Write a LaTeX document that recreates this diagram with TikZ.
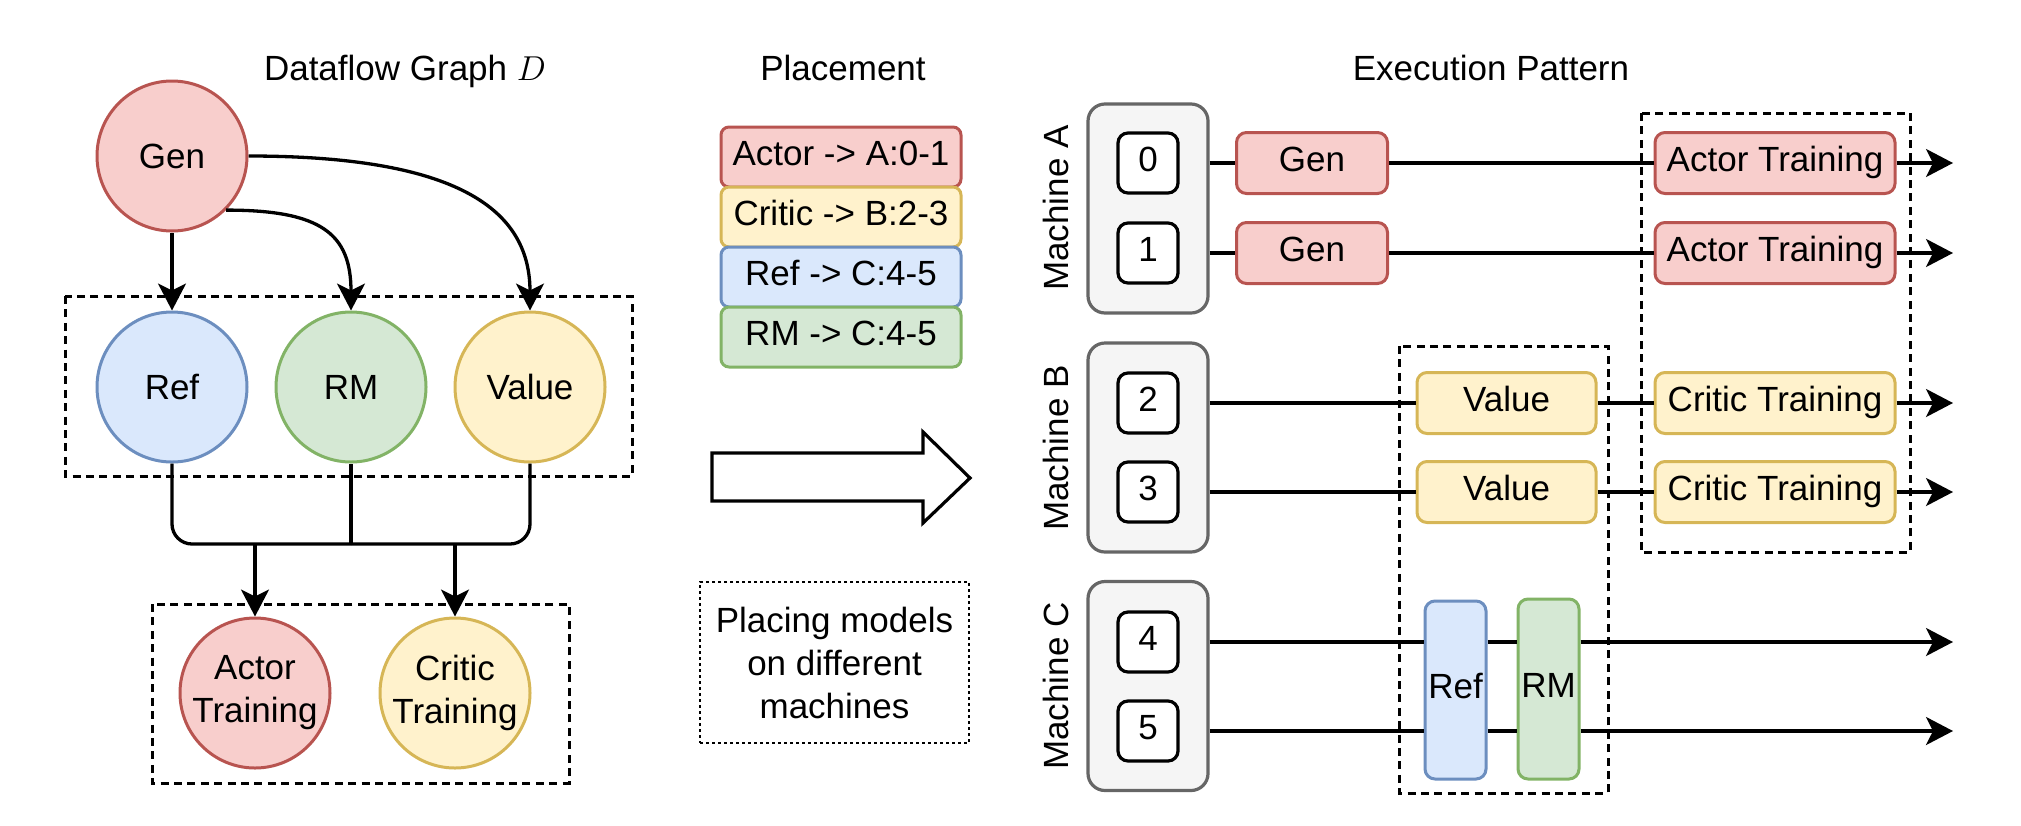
\documentclass[tikz,border=0pt]{standalone}
\usepackage{fontspec}
\setmainfont{Liberation Sans}
\usetikzlibrary{arrows.meta}

\definecolor{redF}{HTML}{F8CECC}\definecolor{redD}{HTML}{B85450}
\definecolor{yelF}{HTML}{FFF2CC}\definecolor{yelD}{HTML}{D6B656}
\definecolor{bluF}{HTML}{DAE8FC}\definecolor{bluD}{HTML}{6C8EBF}
\definecolor{grnF}{HTML}{D5E8D4}\definecolor{grnD}{HTML}{82B366}
\definecolor{gryF}{HTML}{F5F5F5}\definecolor{gryD}{HTML}{666666}

\begin{document}
\begin{tikzpicture}[x=0.5pt,y=-0.5pt,
  every node/.style={font=\fontsize{17.5}{21.5}\selectfont},
  cR/.style={fill=redF,draw=redD},
  cY/.style={fill=yelF,draw=yelD},
  cB/.style={fill=bluF,draw=bluD},
  cG/.style={fill=grnF,draw=grnD},
  ball/.style={circle,minimum size=75pt,inner sep=0pt,line width=1.5pt,align=center},
  box/.style={rectangle,rounded corners=5pt,line width=1.5pt,inner sep=0pt,
              text height=12.5pt,text depth=3.7pt},
  pill/.style={box,rounded corners=4pt,minimum width=120pt,minimum height=30pt},
  gpu/.style={box,fill=white,draw=black,line width=1.6pt,minimum width=30pt,minimum height=30pt},
  mach/.style={rectangle,rounded corners=8.5pt,fill=gryF,draw=gryD,line width=1.6pt,
               minimum width=60pt,minimum height=104.5pt},
  task/.style={box,minimum height=30.5pt},
  grp/.style={draw,line width=1.5pt,dash pattern=on 4pt off 2.7pt},
  conn/.style={line width=1.65pt},
  arr/.style={conn,-{Stealth[length=13.5pt,width=14pt,inset=3.5pt]}}]
\useasboundingbox (0,0) rectangle (2021,825);

% ---------------- dataflow graph ----------------
\node[anchor=base] (t1) at (405,80) {Dataflow Graph $D$};
\draw[grp] (65,296) rectangle (632,476);
\draw[grp] (152,604) rectangle (569,783);

\node[ball,cR] (gen) at (172,156) {Gen};
\node[ball,cB] (ref) at (172,387) {Ref};
\node[ball,cG] (rm)  at (351,387) {RM};
\node[ball,cY] (val) at (530,387) {Value};
\node[ball,cR] (act) at (255,693) {Actor\\Training};
\node[ball,cY] (cri) at (455,693) {Critic\\Training};

\draw[arr] (gen.south) -- (ref.north);
\draw[arr] (gen.-45) .. controls +(95,0) and +(0,-77) .. (rm.north);
\draw[arr] (gen.east) .. controls +(220,0) and +(0,-95) .. (val.north);

\coordinate (mj) at (rm.south |- 0,544);
\coordinate (ja) at (act.north |- mj);
\coordinate (jc) at (cri.north |- mj);
\draw[conn,rounded corners=10pt] (ref.south) |- (mj);
\draw[conn,rounded corners=10pt] (val.south) |- (mj);
\draw[conn] (rm.south) -- (mj);
\draw[arr] (ja) -- (act.north);
\draw[arr] (jc) -- (cri.north);

% ---------------- placement ----------------
\node[anchor=base] (t2) at (843,80) {Placement};
\node[pill,cR] (pA) at (841,157) {Actor -> A:0-1};
\node[pill,cY] (pB) at (841,217) {Critic -> B:2-3};
\node[pill,cB] (pC) at (841,277) {Ref -> C:4-5};
\node[pill,cG] (pD) at (841,337) {RM -> C:4-5};

\draw[line width=1.6pt,fill=white,line join=miter]
  (712,453) -- (923,453) -- (923,432) -- (970,478) -- (923,523) -- (923,501) -- (712,501) -- cycle;

\node[draw,line width=1.3pt,dash pattern=on 1.5pt off 1.5pt,minimum width=134.5pt,
      minimum height=80.5pt,align=center] (note) at (834.5,662.5)
  {Placing models\\on different\\machines};

% ---------------- execution pattern ----------------
\node[anchor=base] (t3) at (1491,80) {Execution Pattern};

\draw[grp] (1399,346) rectangle (1608,793);
\draw[grp] (1641,113) rectangle (1910,552);

\node[anchor=base,rotate=90] (lA) at (1068,208) {Machine A};
\node[anchor=base,rotate=90] (lB) at (1068,448) {Machine B};
\node[anchor=base,rotate=90] (lC) at (1068,686) {Machine C};

\node[mach] (mA) at (1148,208.5) {};
\node[mach] (mB) at (1148,447.5) {};
\node[mach] (mC) at (1148,686) {};

\node[gpu] (g0) at (1148,163) {0};
\node[gpu] (g1) at (1148,253) {1};
\node[gpu] (g2) at (1148,403) {2};
\node[gpu] (g3) at (1148,492) {3};
\node[gpu] (g4) at (1148,642) {4};
\node[gpu] (g5) at (1148,731) {5};

\node[task,cR,minimum width=75.5pt] (gn0) at (1312,163) {Gen};
\node[task,cR,minimum width=75.5pt] (gn1) at (1312,253) {Gen};
\node[task,cR,minimum width=120pt] (at0) at (1775,163) {Actor Training};
\node[task,cR,minimum width=120pt] (at1) at (1775,253) {Actor Training};
\node[task,cY,minimum width=89.5pt] (v2) at (1506.5,403) {Value};
\node[task,cY,minimum width=89.5pt] (v3) at (1506.5,492) {Value};
\node[task,cY,minimum width=120pt] (ct2) at (1775,403) {Critic Training};
\node[task,cY,minimum width=120pt] (ct3) at (1775,492) {Critic Training};
\node[box,cB,minimum width=30.5pt,minimum height=89pt] (rf) at (1455.5,690) {Ref};
\node[box,cG,minimum width=30.5pt,minimum height=90pt] (rw) at (1548.5,689) {RM};

\coordinate (e0) at (1953,163);
\coordinate (e1) at (1953,253);
\coordinate (e2) at (1953,403);
\coordinate (e3) at (1953,492);
\coordinate (e4) at (1953,642);
\coordinate (e5) at (1953,731);

\draw[conn] (mA.east |- g0) -- (gn0);
\draw[conn] (gn0) -- (at0);
\draw[arr] (at0) -- (e0);
\draw[conn] (mA.east |- g1) -- (gn1);
\draw[conn] (gn1) -- (at1);
\draw[arr] (at1) -- (e1);

\draw[conn] (mB.east |- g2) -- (v2);
\draw[conn] (v2) -- (ct2);
\draw[arr] (ct2) -- (e2);
\draw[conn] (mB.east |- g3) -- (v3);
\draw[conn] (v3) -- (ct3);
\draw[arr] (ct3) -- (e3);

\draw[conn] (mC.east |- g4) -- (rf.west |- g4);
\draw[conn] (rf.east |- g4) -- (rw.west |- g4);
\draw[arr] (rw.east |- g4) -- (e4);
\draw[conn] (mC.east |- g5) -- (rf.west |- g5);
\draw[conn] (rf.east |- g5) -- (rw.west |- g5);
\draw[arr] (rw.east |- g5) -- (e5);
\end{tikzpicture}
\end{document}
